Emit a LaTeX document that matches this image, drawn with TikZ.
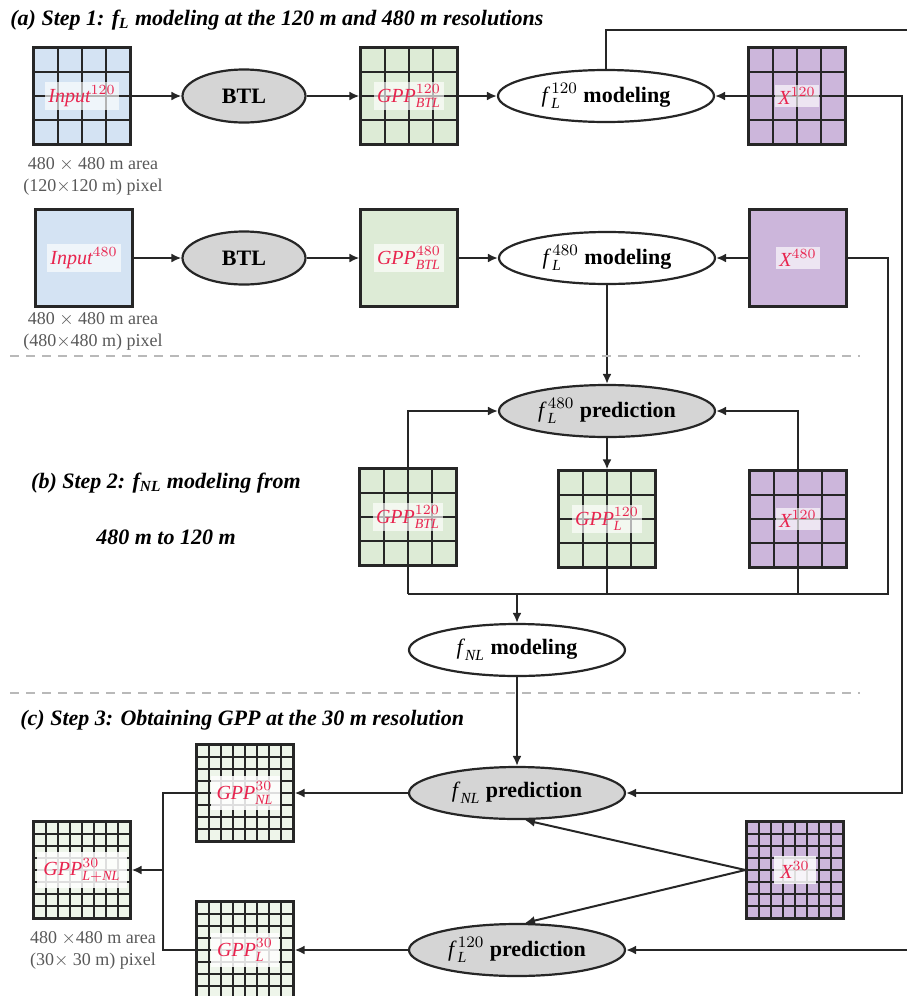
\documentclass[tikz,border=0pt]{standalone}
\usepackage{fontspec}
\setmainfont{Liberation Serif}
\usepackage{tikz}
\usetikzlibrary{calc,arrows.meta,positioning,shapes.geometric,backgrounds}
\definecolor{flowLine}{RGB}{38,38,38}
\definecolor{inBlue}{RGB}{212,227,243}
\definecolor{gppGreen}{RGB}{221,235,214}
\definecolor{xPurple}{RGB}{204,182,219}
\definecolor{ellGray}{RGB}{213,213,213}
\definecolor{lblRed}{RGB}{232,36,78}
\definecolor{capGray}{RGB}{88,88,88}
\definecolor{dashGray}{RGB}{185,185,185}

\tikzset{
  cells/.style={path picture={
      \pgfmathtruncatemacro{\nlast}{#1-1}
      \foreach \k in {1,...,\nlast}{
        \draw[flowLine, line width=1pt]
          ($(path picture bounding box.north west)!\k/#1!(path picture bounding box.north east)$) --
          ($(path picture bounding box.south west)!\k/#1!(path picture bounding box.south east)$);
        \draw[flowLine, line width=1pt]
          ($(path picture bounding box.north west)!\k/#1!(path picture bounding box.south west)$) --
          ($(path picture bounding box.north east)!\k/#1!(path picture bounding box.south east)$);
      }}},
  pixbox/.style={rectangle, draw=flowLine, line width=1.1pt, minimum size=48.5pt, inner sep=0pt},
  pixlbl/.style={fill=white, fill opacity=0.65, text opacity=1, text=lblRed, inner sep=1.5pt,
    font=\fontsize{10}{12}\selectfont},
  procgray/.style={ellipse, draw=flowLine, line width=1.1pt, fill=ellGray, minimum width=108pt,
    minimum height=26pt, inner sep=0pt, font=\fontsize{11}{13}\selectfont\bfseries},
  procwhite/.style={procgray, fill=white},
  btlnode/.style={procgray, minimum width=61.5pt, minimum height=26.5pt},
  flow/.style={draw=flowLine, line width=1pt, -{Latex[length=5pt,width=4.5pt]}},
  wire/.style={draw=flowLine, line width=1pt},
  steptitle/.style={font=\fontsize{11}{13}\selectfont\bfseries\itshape, inner sep=0pt},
  capnote/.style={font=\fontsize{9}{11}\selectfont, text=capGray, align=center, inner sep=0pt},
  sepline/.style={draw=dashGray, line width=0.8pt, dash pattern=on 4.5pt off 3.5pt}
}

\begin{document}
\begin{tikzpicture}[x=0.5pt,y=-0.5pt]
    \useasboundingbox (0,0) rectangle (906,996);

    % =========================
    % (a) Step 1
    % =========================
    \node[steptitle, anchor=west] (titleA) at (10,20)
        {(a) Step 1: f\textsubscript{L} modeling at the 120 m and 480 m resolutions};

    % 120 m row
    \node[pixbox, fill=inBlue, cells=4] (in120) at (82,96) {};
    \node[pixlbl] (in120-l) at (in120) {$\mathit{Input}^{120}$};
    \node[btlnode] (btl120) at (244,96) {BTL};
    \node[pixbox, fill=gppGreen, cells=4] (gpp120) at (409,96) {};
    \node[pixlbl] (gpp120-l) at (gpp120) {$\mathit{GPP}^{120}_{\mathit{BTL}}$};
    \node[procwhite] (f120mod) at (606,96) {${\mathit{f}\mkern3mu}^{120}_{\mathit{L}}$ modeling};
    \node[pixbox, fill=xPurple, cells=4] (x120) at (797,96) {};
    \node[pixlbl] (x120-l) at (x120) {$\mathit{X}^{120}$};
    \node[capnote] (cap120) at (93,176) {480 $\times$ 480 m area\\(120$\times$120 m) pixel};

    % 480 m row
    \node[pixbox, fill=inBlue] (in480) at (84,258) {};
    \node[pixlbl] (in480-l) at (in480) {$\mathit{Input}^{480}$};
    \node[btlnode] (btl480) at (244,258) {BTL};
    \node[pixbox, fill=gppGreen] (gpp480) at (409,258) {};
    \node[pixlbl] (gpp480-l) at (gpp480) {$\mathit{GPP}^{480}_{\mathit{BTL}}$};
    \node[procwhite] (f480mod) at (607,258) {${\mathit{f}\mkern3mu}^{480}_{\mathit{L}}$ modeling};
    \node[pixbox, fill=xPurple] (x480) at (798,258) {};
    \node[pixlbl] (x480-l) at (x480) {$\mathit{X}^{480}$};
    \node[capnote] (cap480) at (93,331) {480 $\times$ 480 m area\\(480$\times$480 m) pixel};

    \draw[sepline] (10,356) -- (860,356);

    % =========================
    % (b) Step 2
    % =========================
    \node[steptitle] (titleB) at (166,483) {(b) Step 2: f\textsubscript{NL} modeling from};
    \node[steptitle] (titleB2) at (166,537) {480 m to 120 m};

    \node[procgray] (f480pred) at (607,411) {${\mathit{f}\mkern3mu}^{480}_{\mathit{L}}$ prediction};
    \node[pixbox, fill=gppGreen, cells=4] (gppbtl) at (408,517) {};
    \node[pixlbl] (gppbtl-l) at (gppbtl) {$\mathit{GPP}^{120}_{\mathit{BTL}}$};
    \node[pixbox, fill=gppGreen, cells=4] (gppl120) at (607,519) {};
    \node[pixlbl] (gppl120-l) at (gppl120) {$\mathit{GPP}^{120}_{\mathit{L}}$};
    \node[pixbox, fill=xPurple, cells=4] (x120b) at (798,519) {};
    \node[pixlbl] (x120b-l) at (x120b) {$\mathit{X}^{120}$};
    \node[procwhite] (fnlmod) at (517,650) {${\mathit{f}\mkern2mu}_{\mathit{NL}}$ modeling};

    \draw[sepline] (10,693) -- (860,693);

    % =========================
    % (c) Step 3
    % =========================
    \node[steptitle, anchor=west] (titleC) at (20,720)
        {(c) Step 3: Obtaining GPP at the 30 m resolution};

    \node[pixbox, fill=gppGreen!50, cells=8] (gppnl30) at (245,793) {};
    \node[pixlbl, inner sep=3pt, fill opacity=0.85] (gppnl30-l) at (gppnl30) {$\mathit{GPP}^{30}_{\mathit{NL}}$};
    \node[pixbox, fill=gppGreen!50, cells=8] (gpplnl30) at (82,870) {};
    \node[pixlbl, inner sep=3pt, fill opacity=0.85] (gpplnl30-l) at (gpplnl30) {$\mathit{GPP}^{30}_{\mathit{L+NL}}$};
    \node[pixbox, fill=gppGreen!50, cells=8] (gppl30) at (245,950) {};
    \node[pixlbl, inner sep=3pt, fill opacity=0.85] (gppl30-l) at (gppl30) {$\mathit{GPP}^{30}_{\mathit{L}}$};
    \node[procgray] (fnlpred) at (517,793) {${\mathit{f}\mkern2mu}_{\mathit{NL}}$ prediction};
    \node[procgray] (f120pred) at (517,950) {${\mathit{f}\mkern3mu}^{120}_{\mathit{L}}$ prediction};
    \node[pixbox, fill=xPurple, cells=8] (x30) at (795,870) {};
    \node[pixlbl, inner sep=3pt, fill opacity=0.85] (x30-l) at (x30) {$\mathit{X}^{30}$};
    \node[capnote] (cap30) at (93,950) {480 $\times$480 m area\\(30$\times$ 30 m) pixel};

    % rails and joins
    \coordinate (wrapTop) at (920,30);
    \coordinate (wrapBot) at (920,950);
    \coordinate (xRail) at (902,793);
    \coordinate (joinL) at (408,594);
    \coordinate (joinR) at (888,594);
    \coordinate (joinX) at (798,594);
    \coordinate (brk) at (163,870);

    % =========================
    % connectors
    % =========================
    \begin{scope}[on background layer]
        \draw[flow] (in120) -- (btl120);
        \draw[flow] (btl120) -- (gpp120);
        \draw[flow] (gpp120) -- (f120mod);
        \draw[flow] (x120) -- (f120mod);
        \draw[flow] (in480) -- (btl480);
        \draw[flow] (btl480) -- (gpp480);
        \draw[flow] (gpp480) -- (f480mod);
        \draw[flow] (x480) -- (f480mod);

        \draw[flow] (f120mod.north) |- (wrapTop) -- (wrapBot) -- (f120pred.east);
        \draw[flow] (x120.east) -| (xRail) -- (fnlpred.east);
        \draw[wire] (x480.east) -| (joinR) -- (joinL);

        \draw[flow] (f480mod) -- (f480pred);
        \draw[flow] (joinL) |- (f480pred.west);
        \draw[flow] (joinX) |- (f480pred.east);
        \draw[flow] (f480pred) -- (gppl120);
        \draw[wire] (gppl120.south) -- (gppl120.south |- joinL);
        \draw[flow] (fnlmod.north |- joinL) -- (fnlmod.north);
        \draw[flow] (fnlmod) -- (fnlpred);

        \draw[flow] (x30.west) -- ([xshift=4pt]fnlpred.south);
        \draw[flow] (x30.west) -- ([xshift=4pt]f120pred.north);
        \draw[flow] (fnlpred) -- (gppnl30);
        \draw[flow] (f120pred) -- (gppl30);
        \draw[wire] (gppnl30.west) -| (brk) |- (gppl30.west);
        \draw[flow] (brk) -- (gpplnl30);
    \end{scope}

\end{tikzpicture}
\end{document}
